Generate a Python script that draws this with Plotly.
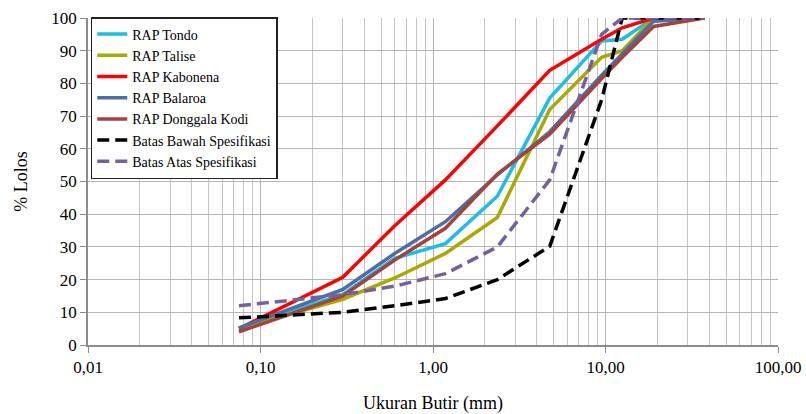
import plotly.graph_objects as go

sieve = [0.075, 0.3, 0.6, 1.18, 2.36, 4.75, 9.5, 12.5, 19, 37.5]

tondo = [5, 15.5, 26.5, 31, 45.5, 75.5, 93, 93.5, 100, 100]
talise = [5, 14, 20.5, 28, 39, 72, 88, 90, 100, 100]
kabonena = [5, 20.7, 36.5, 50.5, 67, 84, 93.5, 97, 100, 100]
balaroa = [5.2, 17, 28, 37.7, 52, 65.2, 82.5, 89, 99, 100]
donggala = [4, 15, 26, 35.7, 52.3, 64.5, 81.5, 88, 97.4, 100]
batas_bawah = [8.3, 10, 12, 14.2, 20, 30.2, 75, 100, 100, 100]
batas_atas = [12, 15.4, 18, 21.8, 30, 50.5, 95, 100, 100, 100]

names = ["RAP Tondo", "RAP Talise", "RAP Kabonena", "RAP Balaroa",
         "RAP Donggala Kodi", "Batas Bawah Spesifikasi", "Batas Atas Spesifikasi"]
series = [tondo, talise, kabonena, balaroa, donggala, batas_bawah, batas_atas]
colors = ["#1cbde6", "#aca800", "#ff0000", "#4a6ea6", "#a4433e", "#000000", "#74609e"]
dashes = ["solid", "solid", "solid", "solid", "solid", "12px,6px", "12px,6px"]

x_ticks = [0.01, 0.1, 1, 10, 100]
x_ticktext = ["0,01", "0,10", "1,00", "10,00", "100,00"]

FONT = "Liberation Serif, Times New Roman, serif"

fig = go.Figure()
for n, s, c, d in zip(names, series, colors, dashes):
    fig.add_trace(go.Scatter(x=sieve, y=s, mode="lines", name=n,
                             line=dict(color=c, width=3.5, dash=d)))

fig.update_layout(
    width=806, height=414,
    margin=dict(l=88, r=28, t=18, b=69),
    paper_bgcolor="white", plot_bgcolor="white",
    font=dict(family=FONT, size=17, color="#000000"),
    legend=dict(x=0.004, y=1.003, xanchor="left", yanchor="top",
                bgcolor="white", bordercolor="#222222", borderwidth=1.5,
                font=dict(family=FONT, size=14, color="#000000"),
                tracegroupgap=0, itemwidth=30),
    showlegend=True,
)
fig.update_xaxes(
    type="log", range=[-2, 2], automargin=False,
    tickvals=x_ticks, ticktext=x_ticktext,
    showgrid=True, gridcolor="#b4b4b4", gridwidth=1.3,
    minor=dict(showgrid=True, gridcolor="#c4c4c4", gridwidth=1.3, dtick="D1", ticks=""),
    showline=True, linecolor="#8c8c8c", linewidth=1.5,
    ticks="outside", ticklen=6, tickcolor="#8c8c8c",
    tickfont=dict(family=FONT, size=17),
    title=dict(text="Ukuran Butir (mm)", font=dict(family=FONT, size=18), standoff=20),
    zeroline=False,
)
fig.update_yaxes(
    range=[0, 100], dtick=10, automargin=False,
    showgrid=True, gridcolor="#b4b4b4", gridwidth=1.3,
    showline=True, linecolor="#8c8c8c", linewidth=1.5,
    ticks="outside", ticklen=6, tickcolor="#8c8c8c",
    tickfont=dict(family=FONT, size=17),
    title=dict(text="% Lolos", font=dict(family=FONT, size=18), standoff=19),
    zeroline=False,
)

fig.write_html("out.html",
               config={"displayModeBar": False},
               post_script="document.body.style.margin='0';document.body.style.overflow='hidden';")
